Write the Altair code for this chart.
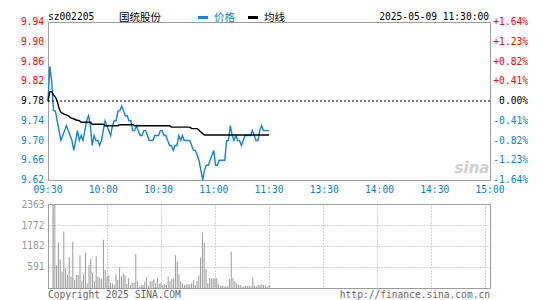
import altair as alt
import pandas as pd

# ---------------- data ----------------
prev_close = 9.78
minutes = list(range(121))  # 09:30 .. 11:30, one point per minute

price = [9.78, 9.85, 9.82, 9.76, 9.76, 9.74, 9.72, 9.70, 9.71, 9.72,
         9.73, 9.72, 9.71, 9.70, 9.68, 9.70, 9.72, 9.70, 9.71, 9.70,
         9.72, 9.74, 9.75, 9.73, 9.69, 9.71, 9.70, 9.70, 9.69, 9.70,
         9.72, 9.74, 9.73, 9.72, 9.71, 9.73, 9.74, 9.74, 9.76, 9.76,
         9.77, 9.76, 9.75, 9.75, 9.74, 9.74, 9.72, 9.72, 9.73, 9.72,
         9.71, 9.71, 9.72, 9.72, 9.71, 9.70, 9.70, 9.70, 9.71, 9.71,
         9.71, 9.72, 9.72, 9.71, 9.71, 9.70, 9.69, 9.69, 9.68, 9.69,
         9.69, 9.71, 9.70, 9.71, 9.70, 9.70, 9.70, 9.70, 9.69, 9.68,
         9.68, 9.67, 9.66, 9.64, 9.62, 9.64, 9.65, 9.65, 9.66, 9.67,
         9.68, 9.65, 9.65, 9.66, 9.66, 9.66, 9.66, 9.70, 9.70, 9.73,
         9.71, 9.70, 9.71, 9.70, 9.70, 9.69, 9.70, 9.71, 9.71, 9.71,
         9.71, 9.72, 9.71, 9.70, 9.70, 9.72, 9.73, 9.72, 9.72, 9.72,
         9.72]

avg_price = [9.779, 9.799, 9.799, 9.792, 9.788, 9.780, 9.765, 9.757, 9.755, 9.753,
             9.752, 9.750, 9.747, 9.745, 9.744, 9.742, 9.741, 9.740, 9.737, 9.737,
             9.737, 9.737, 9.737, 9.737, 9.733, 9.733, 9.733, 9.733, 9.733, 9.733,
             9.733, 9.730, 9.730, 9.730, 9.730, 9.730, 9.730, 9.730, 9.730, 9.732,
             9.732, 9.732, 9.732, 9.732, 9.732, 9.732, 9.732, 9.730, 9.730, 9.730,
             9.730, 9.730, 9.730, 9.730, 9.730, 9.730, 9.730, 9.730, 9.730, 9.730,
             9.730, 9.730, 9.730, 9.730, 9.730, 9.730, 9.730, 9.727, 9.727, 9.727,
             9.727, 9.727, 9.727, 9.727, 9.727, 9.727, 9.727, 9.727, 9.724, 9.724,
             9.724, 9.724, 9.721, 9.717, 9.714, 9.711, 9.711, 9.711, 9.711, 9.711,
             9.711, 9.711, 9.711, 9.711, 9.711, 9.711, 9.711, 9.711, 9.711, 9.711,
             9.711, 9.711, 9.711, 9.711, 9.711, 9.711, 9.711, 9.711, 9.711, 9.711,
             9.711, 9.711, 9.711, 9.711, 9.711, 9.711, 9.711, 9.711, 9.711, 9.711,
             9.711]

volume = [2363, 2363, 640, 1280, 810, 460, 1590, 555, 367, 870,
          320, 1300, 225, 367, 367, 920, 180, 385, 1000, 130,
          650, 820, 414, 180, 890, 320, 273, 254, 1360, 508,
          320, 367, 150, 130, 85, 385, 225, 583, 320, 414,
          367, 113, 273, 85, 150, 150, 950, 180, 30, 85,
          85, 180, 290, 65, 180, 200, 254, 130, 273, 130,
          150, 85, 105, 85, 320, 180, 254, 254, 920, 740,
          385, 180, 130, 85, 105, 105, 105, 130, 225, 85,
          200, 350, 860, 1560, 1280, 540, 130, 273, 273, 273,
          273, 273, 105, 65, 65, 50, 40, 50, 254, 1020,
          273, 180, 130, 85, 85, 40, 40, 65, 55, 65,
          40, 273, 65, 45, 85, 85, 105, 85, 65, 30,
          85]

price_ticks = [9.94, 9.90, 9.86, 9.82, 9.78, 9.74, 9.70, 9.66, 9.62]
price_tick_labels = ["9.94", "9.90", "9.86", "9.82", "9.78", "9.74", "9.70", "9.66", "9.62"]
pct_tick_labels = ["+1.64%", "+1.23%", "+0.82%", "+0.41%", "0.00%",
                   "-0.41%", "-0.82%", "-1.23%", "-1.64%"]
time_ticks = [0, 30, 60, 90, 120, 150, 180, 210, 240]
time_labels = ["09:30", "10:00", "10:30", "11:00", "11:30", "13:30", "14:00", "14:30", "15:00"]
vol_ticks = [591, 1182, 1772, 2363]

stock_code = "sz002205"
stock_name = "国统股份"
legend_price = "价格"
legend_avg = "均线"
stamp = "2025-05-09 11:30:00"
copyright_txt = "Copyright 2025 SINA.COM"
url_txt = "http://finance.sina.com.cn"

# ---------------- styling ----------------
W, H, VH = 442, 158, 84
MONO = "DejaVu Sans Mono"
CJK = "Noto Sans CJK SC"
FS = 9.6
CJK_FS = 10.5
RED, BLACK, BLUE = "#ff0000", "#000000", "#0a7fd6"
LINE_BLUE = "#0f86d8"
GRID = "#a8a8a8"
FRAME = "#9c9c9c"


def tick_color(v):
    if v > prev_close + 1e-9:
        return RED
    if abs(v - prev_close) < 1e-9:
        return BLACK
    return BLUE


df = pd.DataFrame({"m": minutes, "price": price, "avg": avg_price, "vol": volume})
ptick_df = pd.DataFrame({"v": price_ticks, "lab": price_tick_labels,
                         "pct": pct_tick_labels,
                         "col": [tick_color(v) for v in price_ticks]})
ttick_df = pd.DataFrame({"t": time_ticks, "lab": time_labels})

xscale = alt.Scale(domain=[0, 240], nice=False, zero=False)
yscale = alt.Scale(domain=[9.62, 9.94], nice=False, zero=False)

grid_axis_x = alt.Axis(values=time_ticks, grid=True, labels=False, ticks=False,
                       domain=False, title=None, gridColor=GRID, gridDash=[1, 2],
                       gridWidth=1)
grid_axis_y = alt.Axis(values=price_ticks, grid=True, labels=False, ticks=False,
                       domain=False, title=None, gridColor=GRID, gridDash=[1, 2],
                       gridWidth=1)

base = alt.Chart(df)

price_line = base.mark_line(color=LINE_BLUE, strokeWidth=1.4).encode(
    x=alt.X("m:Q", scale=xscale, axis=grid_axis_x),
    y=alt.Y("price:Q", scale=yscale, axis=grid_axis_y),
)
avg_line = base.mark_line(color=BLACK, strokeWidth=1.4).encode(
    x=alt.X("m:Q", scale=xscale, axis=None),
    y=alt.Y("avg:Q", scale=yscale, axis=None),
)
prev_rule = alt.Chart(pd.DataFrame({"v": [prev_close]})).mark_rule(
    color=BLACK, strokeDash=[2, 2], strokeWidth=1
).encode(y=alt.Y("v:Q", scale=yscale, axis=None))

left_labels = alt.Chart(ptick_df).mark_text(
    align="right", baseline="middle", font=MONO, fontSize=FS
).encode(
    y=alt.Y("v:Q", scale=yscale, axis=None),
    x=alt.value(-4),
    text="lab:N",
    color=alt.Color("col:N", scale=None),
)
right_labels = alt.Chart(ptick_df).mark_text(
    align="right", baseline="middle", font=MONO, fontSize=FS
).encode(
    y=alt.Y("v:Q", scale=yscale, axis=None),
    x=alt.value(W + 38),
    text="pct:N",
    color=alt.Color("col:N", scale=None),
)
time_text = alt.Chart(ttick_df).mark_text(
    align="center", baseline="middle", font=MONO, fontSize=FS, color=BLUE
).encode(
    x=alt.X("t:Q", scale=xscale, axis=None),
    y=alt.value(H + 10),
    text="lab:N",
)


def label(txt, x, y, font=MONO, size=FS, color=BLACK, align="left", baseline="middle", **kw):
    return alt.Chart(pd.DataFrame({"t": [txt]})).mark_text(
        font=font, fontSize=size, color=color, align=align, baseline=baseline, **kw
    ).encode(x=alt.value(x), y=alt.value(y), text="t:N")


hdr_y = -5.5
cjk_y = -4.5
header = [
    label(stock_code, 0, hdr_y),
    label(stock_name, 71, cjk_y, font=CJK, size=CJK_FS),
    alt.Chart(pd.DataFrame({"a": [0]})).mark_rule(color=LINE_BLUE, strokeWidth=3).encode(
        x=alt.value(150), x2=alt.value(160), y=alt.value(cjk_y)),
    label(legend_price, 166, cjk_y, font=CJK, size=CJK_FS, color=BLUE),
    alt.Chart(pd.DataFrame({"a": [0]})).mark_rule(color=BLACK, strokeWidth=3).encode(
        x=alt.value(200), x2=alt.value(210), y=alt.value(cjk_y)),
    label(legend_avg, 216, cjk_y, font=CJK, size=CJK_FS),
    label(stamp, W - 1, hdr_y, align="right"),
    label("sina", W - 18, H - 12, font="DejaVu Sans", size=15, color="#cfcfcf",
          align="center", fontStyle="italic", fontWeight="bold"),
]

price_chart = alt.layer(
    price_line, prev_rule, avg_line, left_labels, right_labels, time_text, *header
).properties(width=W, height=H)

vol_bars = base.mark_bar(size=1, color="#9a9a9a").encode(
    x=alt.X("m:Q", scale=xscale, axis=grid_axis_x),
    y=alt.Y("vol:Q", scale=alt.Scale(domain=[0, 2363], nice=False),
            axis=alt.Axis(values=vol_ticks, grid=True, ticks=False, domain=False,
                          title=None, gridColor=GRID, gridDash=[1, 2], gridWidth=1,
                          labelColor="#999999", labelFont=MONO, labelFontSize=FS,
                          labelPadding=4, format="d")),
)
vol_chart = alt.layer(
    vol_bars,
    label(copyright_txt, 0, VH + 7, color="#666666"),
    label(url_txt, W, VH + 7, color="#666666", align="right"),
).properties(width=W, height=VH)

chart = alt.vconcat(price_chart, vol_chart, spacing=24, bounds="flush").properties(
    padding={"left": 12, "top": 3, "right": 5, "bottom": 1},
    background="white",
).configure_view(stroke=FRAME, strokeWidth=1)

chart.save("out.html", embed_options={"renderer": "svg", "actions": False})
